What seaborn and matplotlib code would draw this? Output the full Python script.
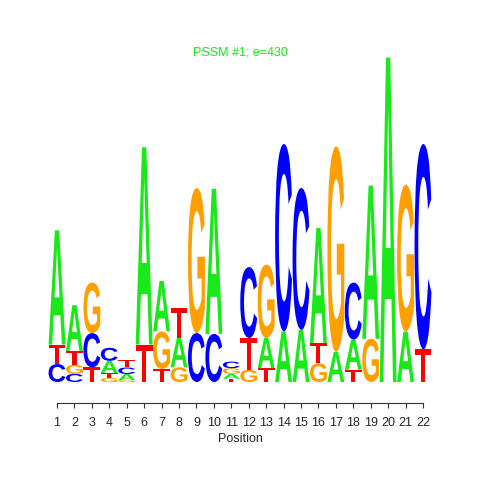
import matplotlib
matplotlib.use("Agg")
import matplotlib.pyplot as plt
import seaborn as sns
from matplotlib.textpath import TextPath
from matplotlib.patches import PathPatch
from matplotlib.font_manager import FontProperties
from matplotlib.transforms import Affine2D

# ---- data (information content per letter, bits) ----
positions = list(range(1, 23))
A = [0.70, 0.28, 0.0, 0.075, 0.037, 1.21, 0.31, 0.18, 0.0, 0.89, 0.03,
     0.0, 0.185, 0.31, 0.32, 0.705, 0.185, 0.185, 0.94, 1.99, 0.31, 0.0]
C = [0.11, 0.05, 0.21, 0.08, 0.04, 0.0, 0.0, 0.0, 0.30, 0.295, 0.04,
     0.435, 0.0, 1.15, 0.87, 0.0, 0.0, 0.35, 0.0, 0.0, 0.0, 1.26]
G = [0.0, 0.055, 0.31, 0.025, 0.012, 0.0, 0.23, 0.09, 0.89, 0.0, 0.035,
     0.075, 0.45, 0.0, 0.0, 0.115, 1.26, 0.0, 0.265, 0.0, 0.90, 0.0]
T = [0.12, 0.086, 0.09, 0.03, 0.045, 0.23, 0.08, 0.185, 0.0, 0.0, 0.02,
     0.195, 0.085, 0.0, 0.0, 0.125, 0.0, 0.075, 0.0, 0.0, 0.0, 0.20]
title = "PSSM #1; e=430"
xlabel = "Position"

colors = {"A": "#1AE81A", "C": "#0000FF", "G": "#FFA000", "T": "#FF0000"}

sns.set_style("white")
plt.rcParams["font.family"] = ["Liberation Sans", "DejaVu Sans"]

fig = plt.figure(figsize=(4.8, 4.8), dpi=100)
W = H = 480.0
ax_left, ax_right = 48.3, 431.7
ax_top, ax_bot = 40.0, 403.0
ax = fig.add_axes([ax_left / W, 1 - ax_bot / H, (ax_right - ax_left) / W, (ax_bot - ax_top) / H])

bits_per_px = 2.0 / 326.0
ax.set_xlim(0.5, 22.5)
ax.set_ylim(-(ax_bot - 382) * bits_per_px, (382 - ax_top) * bits_per_px)

fp = FontProperties(family="Liberation Sans", weight="bold")
glyphs = {}
for ch in "ACGT":
    tp = TextPath((0, 0), ch, size=1, prop=fp)
    glyphs[ch] = (tp, tp.get_extents())


def draw_letter(ch, x0, y0, w, h):
    tp, ext = glyphs[ch]
    tr = (Affine2D().translate(-ext.x0, -ext.y0)
          .scale(w / ext.width, h / ext.height)
          .translate(x0, y0))
    ax.add_patch(PathPatch(tr.transform_path(tp), facecolor=colors[ch],
                           edgecolor="none", lw=0))


width = 0.97
for i, pos in enumerate(positions):
    col = [("A", A[i]), ("C", C[i]), ("G", G[i]), ("T", T[i])]
    col = sorted([c for c in col if c[1] > 0], key=lambda c: c[1])
    y = 0.0
    for ch, h in col:
        draw_letter(ch, pos - width / 2, y, width, h)
        y += h

for s in ["top", "right", "left"]:
    ax.spines[s].set_visible(False)
ax.spines["bottom"].set_bounds(1, 22)
ax.spines["bottom"].set_color("#333333")
ax.spines["bottom"].set_linewidth(0.8)
ax.set_yticks([])
ax.set_xticks(positions)
ax.set_xticklabels([str(p) for p in positions])
ax.tick_params(axis="x", direction="out", length=3.6, width=0.8, color="#333333",
               labelsize=9, pad=6.5, bottom=True)
ax.set_xlabel(xlabel, fontsize=9, labelpad=3)
fig.text(0.5, 1 - 52.5 / H, title, ha="center", va="center", fontsize=9, color="#1AE81A")

fig.savefig("out.png", dpi=100)
